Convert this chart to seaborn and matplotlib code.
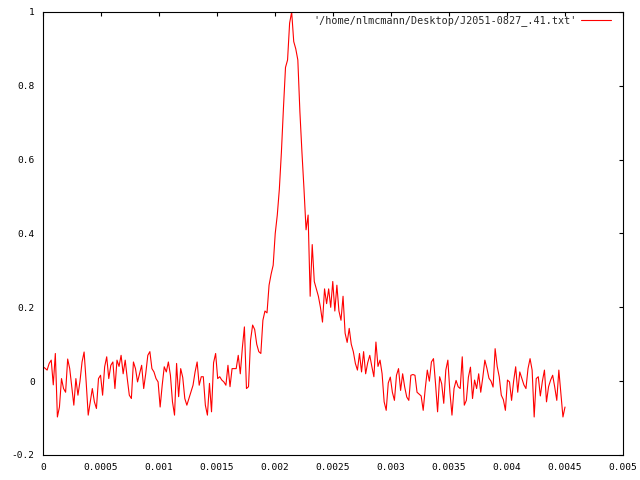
import numpy as np
import pandas as pd
import matplotlib
matplotlib.use("Agg")
import matplotlib.pyplot as plt
import seaborn as sns

# pulse profile, values (256 phase bins)
baseline_left = [
    0.039, 0.035, 0.03, 0.048, 0.057, -0.01, 0.075, -0.097, -0.07, 0.007,
    -0.02, -0.03, 0.06, 0.034, -0.015, -0.065, 0.007, -0.038, 0.0, 0.052,
    0.079, -0.002, -0.092, -0.055, -0.02, -0.056, -0.074, 0.007, 0.016, -0.038,
    0.039, 0.066, 0.007, 0.043, 0.052, -0.02, 0.057, 0.04, 0.07, 0.02,
    0.057, 0.007, -0.038, -0.047, 0.052,
    0.034, -0.002, 0.021, 0.043, -0.02, 0.021, 0.07, 0.08, 0.034, 0.025,
    0.007, -0.002, -0.07, -0.011, 0.039, 0.025, 0.052, 0.016, -0.056, -0.092,
    0.048, -0.042, 0.034, 0.01, -0.047, -0.065, -0.047, -0.029, -0.011, 0.025,
    0.052, -0.011, 0.012, 0.012, -0.065, -0.092, -0.006, -0.083, 0.05, 0.075,
    0.007, 0.012, 0.003, -0.002, -0.011, 0.043, -0.015, 0.034, 0.034, 0.034,
]
leading_edge = [
    0.07, 0.02, 0.09, 0.147, -0.02, -0.015, 0.111, 0.152, 0.14, 0.1,
    0.08, 0.075, 0.165, 0.19, 0.185, 0.26, 0.29, 0.314,
]
peak = [
    0.40, 0.45, 0.52, 0.62, 0.74, 0.85, 0.87, 0.97, 1.0, 0.92,
    0.90, 0.87, 0.73, 0.62, 0.52, 0.41, 0.45, 0.23, 0.37,
]
trailing_edge = [
    0.27, 0.25, 0.23, 0.20, 0.16, 0.25, 0.21, 0.25, 0.20, 0.27,
    0.19, 0.26, 0.19, 0.165, 0.23, 0.13, 0.105, 0.143, 0.10, 0.08,
    0.048, 0.03, 0.075, 0.025, 0.08, 0.02, 0.05, 0.07, 0.04, 0.012,
]
baseline_right = [
    0.106, 0.04, 0.057, 0.02, -0.056, -0.079, -0.005, 0.011, -0.03, -0.052,
    0.016, 0.034, -0.025, 0.02, -0.016, -0.043, -0.052, 0.016, 0.018, 0.016,
    -0.03, -0.035, -0.04, -0.079, -0.02, 0.03, 0.0, 0.052, 0.061, -0.007,
    -0.083, 0.012, -0.007, -0.06, 0.03, 0.057, -0.03, -0.092, -0.02, 0.002,
    -0.015, -0.02, 0.066, -0.065, -0.052, 0.011, 0.038, -0.047,
    0.003, -0.02, 0.02, -0.03, 0.01, 0.057, 0.035, 0.008, 0.0, -0.016,
    0.088, 0.04, 0.012, -0.038, -0.05, -0.079, 0.003, -0.002, -0.052, 0.0,
    0.039, -0.03, 0.025, 0.007, -0.01, -0.02, 0.034, 0.061, 0.03, -0.097,
    0.007, 0.012, -0.04, 0.0, 0.03, -0.056, -0.015, 0.003, 0.016, -0.016,
    -0.052, 0.03, -0.035, -0.097, -0.07,
]

label = "'/home/nlmcmann/Desktop/J2051-0827_.41.txt'"
x_ticks = [0, 0.0005, 0.001, 0.0015, 0.002, 0.0025, 0.003, 0.0035, 0.004, 0.0045, 0.005]
y_ticks = [-0.2, 0, 0.2, 0.4, 0.6, 0.8, 1]

amp = baseline_left + leading_edge + peak + trailing_edge + baseline_right
t = np.linspace(0, 0.0045, len(amp))
df = pd.DataFrame({"time": t, "amp": amp})

sns.set_style("white")
plt.rcParams["font.family"] = ["DejaVu Sans Mono", "DejaVu Sans"]

fig = plt.figure(figsize=(6.4, 4.8), dpi=100)
ax = fig.add_axes([43 / 640, 1 - 455 / 480, 580 / 640, 443 / 480])

sns.lineplot(data=df, x="time", y="amp", color="red", linewidth=0.8,
             estimator=None, sort=False, label=label, ax=ax)

ax.set_xlim(0, 0.005)
ax.set_ylim(-0.2, 1)
ax.set_xticks(x_ticks)
ax.set_xticklabels([f"{v:g}" for v in x_ticks])
ax.set_yticks(y_ticks)
ax.set_yticklabels([f"{v:g}" for v in y_ticks])
ax.set_xlabel("")
ax.set_ylabel("")
ax.tick_params(direction="in", top=True, right=True, length=3, width=0.8,
               labelsize=6.8, colors="black", pad=6)
for s in ax.spines.values():
    s.set_color("black")
    s.set_linewidth(0.8)

ax.legend(loc="center right", bbox_to_anchor=(0.979, 0.98), frameon=False,
          markerfirst=False, handlelength=2.9, handletextpad=0.5,
          borderpad=0, borderaxespad=0,
          prop={"family": "DejaVu Sans Mono", "size": 7.3})

fig.savefig("out.png", dpi=100)
